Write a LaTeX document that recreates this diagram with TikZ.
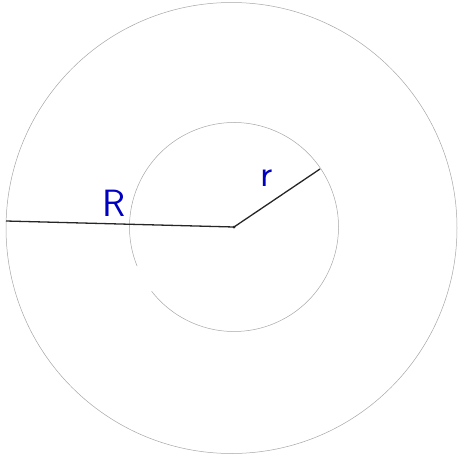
\documentclass[tikz,border=0pt]{standalone}
\usepackage{tikz}
\usetikzlibrary{positioning}

\begin{document}
\begin{tikzpicture}[
    x=1pt,
    y=-1pt,
    rim/.style={
        draw=black!35,
        line width=0.5pt
    },
    radius line/.style={
        draw=black!85,
        line width=1.3pt
    },
    label/.style={
        text=blue!75!black,
        font=\sffamily\fontsize{38}{38}\selectfont,
        inner sep=0pt
    }
]
\useasboundingbox (0,0) rectangle (461,456);

% ---------------- CIRCLES ----------------
\coordinate (O) at (234,227);
\draw[rim] (231.5,228) circle[radius=225.5];
\draw[rim] (O) ++(158:104.5) arc[start angle=158, end angle=502, radius=104.5];

% ---------------- RADII ----------------
\coordinate (Rend) at (6,221);
\coordinate (rend) at (320,169);
\draw[radius line] (Rend) -- (O);
\draw[radius line] (O) -- (rend);
\fill[black!85] (O) circle[radius=1.5];

% ---------------- LABELS ----------------
\node[label] (Rlab) at (114,203) {R};
\node[label] (rlab) at (267,178) {r};

\end{tikzpicture}
\end{document}
